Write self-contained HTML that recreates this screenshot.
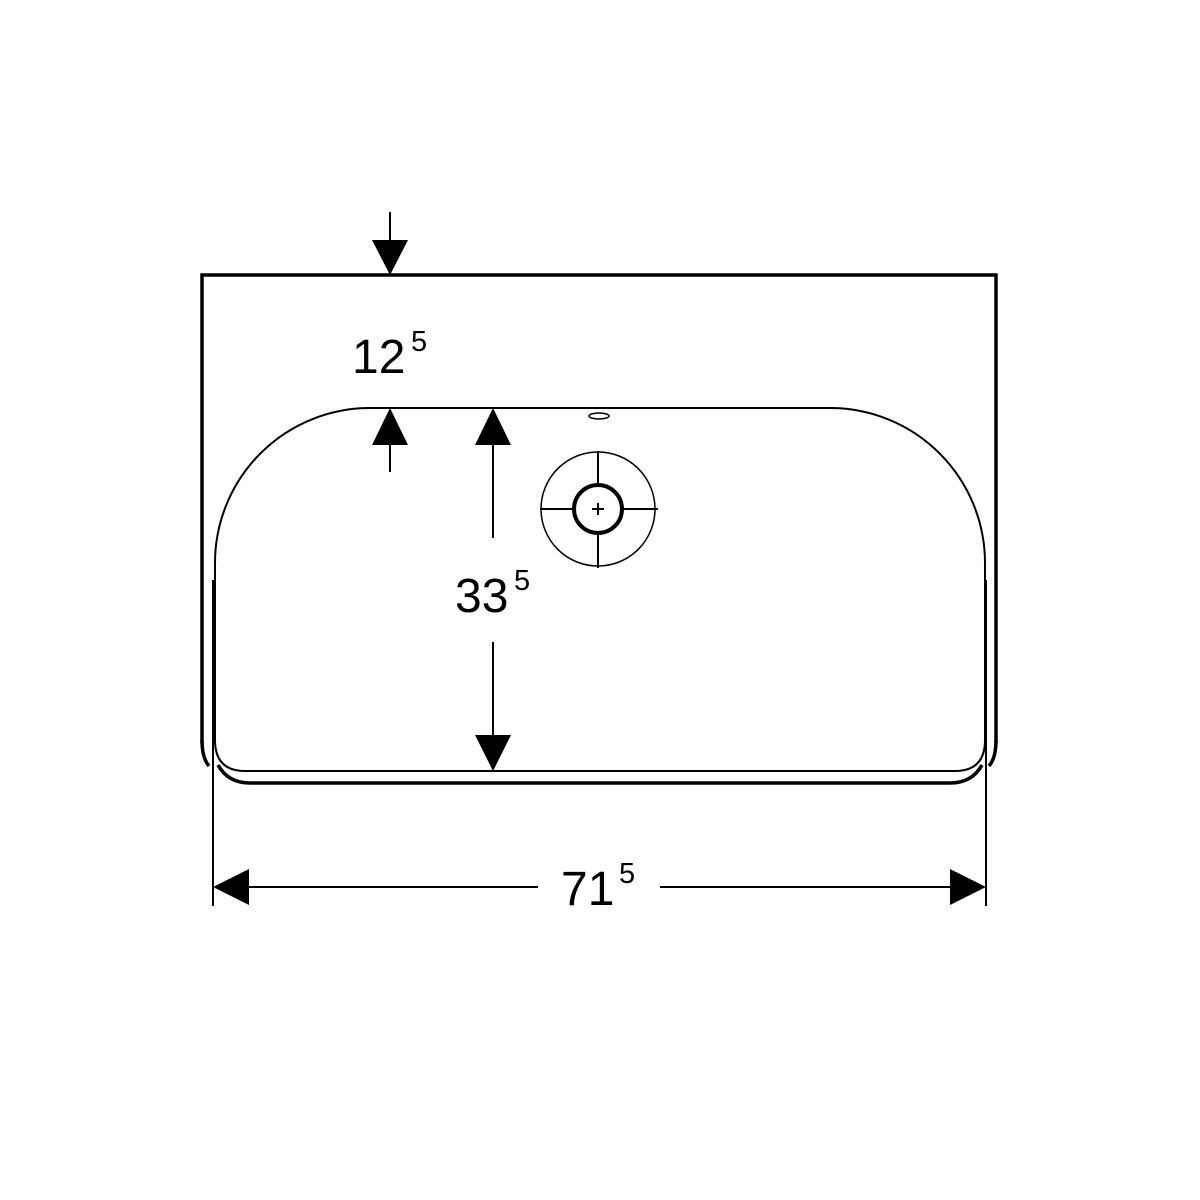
<!DOCTYPE html>
<html><head><style>html,body{margin:0;padding:0;background:#fff}svg{display:block}</style></head>
<body>
<svg width="1200" height="1200" viewBox="0 0 1200 1200" xmlns="http://www.w3.org/2000/svg">
<rect width="1200" height="1200" fill="#fff"/>
<g fill="none" stroke="#000">
<!-- outer body -->
<path d="M202,743 L202,275 L996,275 L996,743" stroke-width="3.5"/>
<path d="M202,740 Q202,758 209,766" stroke-width="3.5"/>
<path d="M996,740 Q996,758 989,766" stroke-width="3.5"/>
<path d="M218,765 Q228,783 250,783 L950,783 Q972,783 982,765" stroke-width="3.5"/>
<!-- basin -->
<path d="M215,740 L215,563 A155,155 0 0 1 370,408 L830,408 A155,155 0 0 1 985,563 L985,740 Q985,771 955,771 L245,771 Q215,771 215,740" stroke-width="2"/>
<!-- extension lines -->
<line x1="213" y1="580" x2="213" y2="906" stroke-width="2"/>
<line x1="986" y1="580" x2="986" y2="906" stroke-width="2"/>
<!-- overflow -->
<ellipse cx="599" cy="416" rx="10" ry="3" stroke-width="1.5"/>
<!-- drain -->
<circle cx="598" cy="509" r="57" stroke-width="1.5"/>
<circle cx="598" cy="509" r="24" stroke-width="4"/>
<line x1="540" y1="509" x2="574" y2="509" stroke-width="2"/>
<line x1="622" y1="509" x2="658" y2="509" stroke-width="2"/>
<line x1="598" y1="451" x2="598" y2="485" stroke-width="2"/>
<line x1="598" y1="533" x2="598" y2="568" stroke-width="2"/>
<line x1="592" y1="509" x2="604" y2="509" stroke-width="2"/>
<line x1="598" y1="503" x2="598" y2="515" stroke-width="2"/>
<!-- dimension lines -->
<line x1="390" y1="212" x2="390" y2="245" stroke-width="2"/>
<line x1="390" y1="440" x2="390" y2="472" stroke-width="2"/>
<line x1="493" y1="440" x2="493" y2="538" stroke-width="2"/>
<line x1="493" y1="642" x2="493" y2="740" stroke-width="2"/>
<line x1="245" y1="887" x2="538" y2="887" stroke-width="2"/>
<line x1="660" y1="887" x2="952" y2="887" stroke-width="2"/>
</g>
<g fill="#000">
<polygon points="372,240 408,240 390,275"/>
<polygon points="372,445 408,445 390,408"/>
<polygon points="475,445 511,445 493,408"/>
<polygon points="475,735 511,735 493,771"/>
<polygon points="249,869 249,905 213,887"/>
<polygon points="950,869 950,905 986,887"/>
</g>
<g font-family="Liberation Sans, sans-serif" fill="#000">
<text x="352" y="373" font-size="48">12</text>
<text x="411" y="351" font-size="29">5</text>
<text x="455" y="612" font-size="48">33</text>
<text x="514" y="590" font-size="29">5</text>
<text x="561" y="905" font-size="48">71</text>
<text x="619" y="883" font-size="29">5</text>
</g>
</svg>
</body></html>
